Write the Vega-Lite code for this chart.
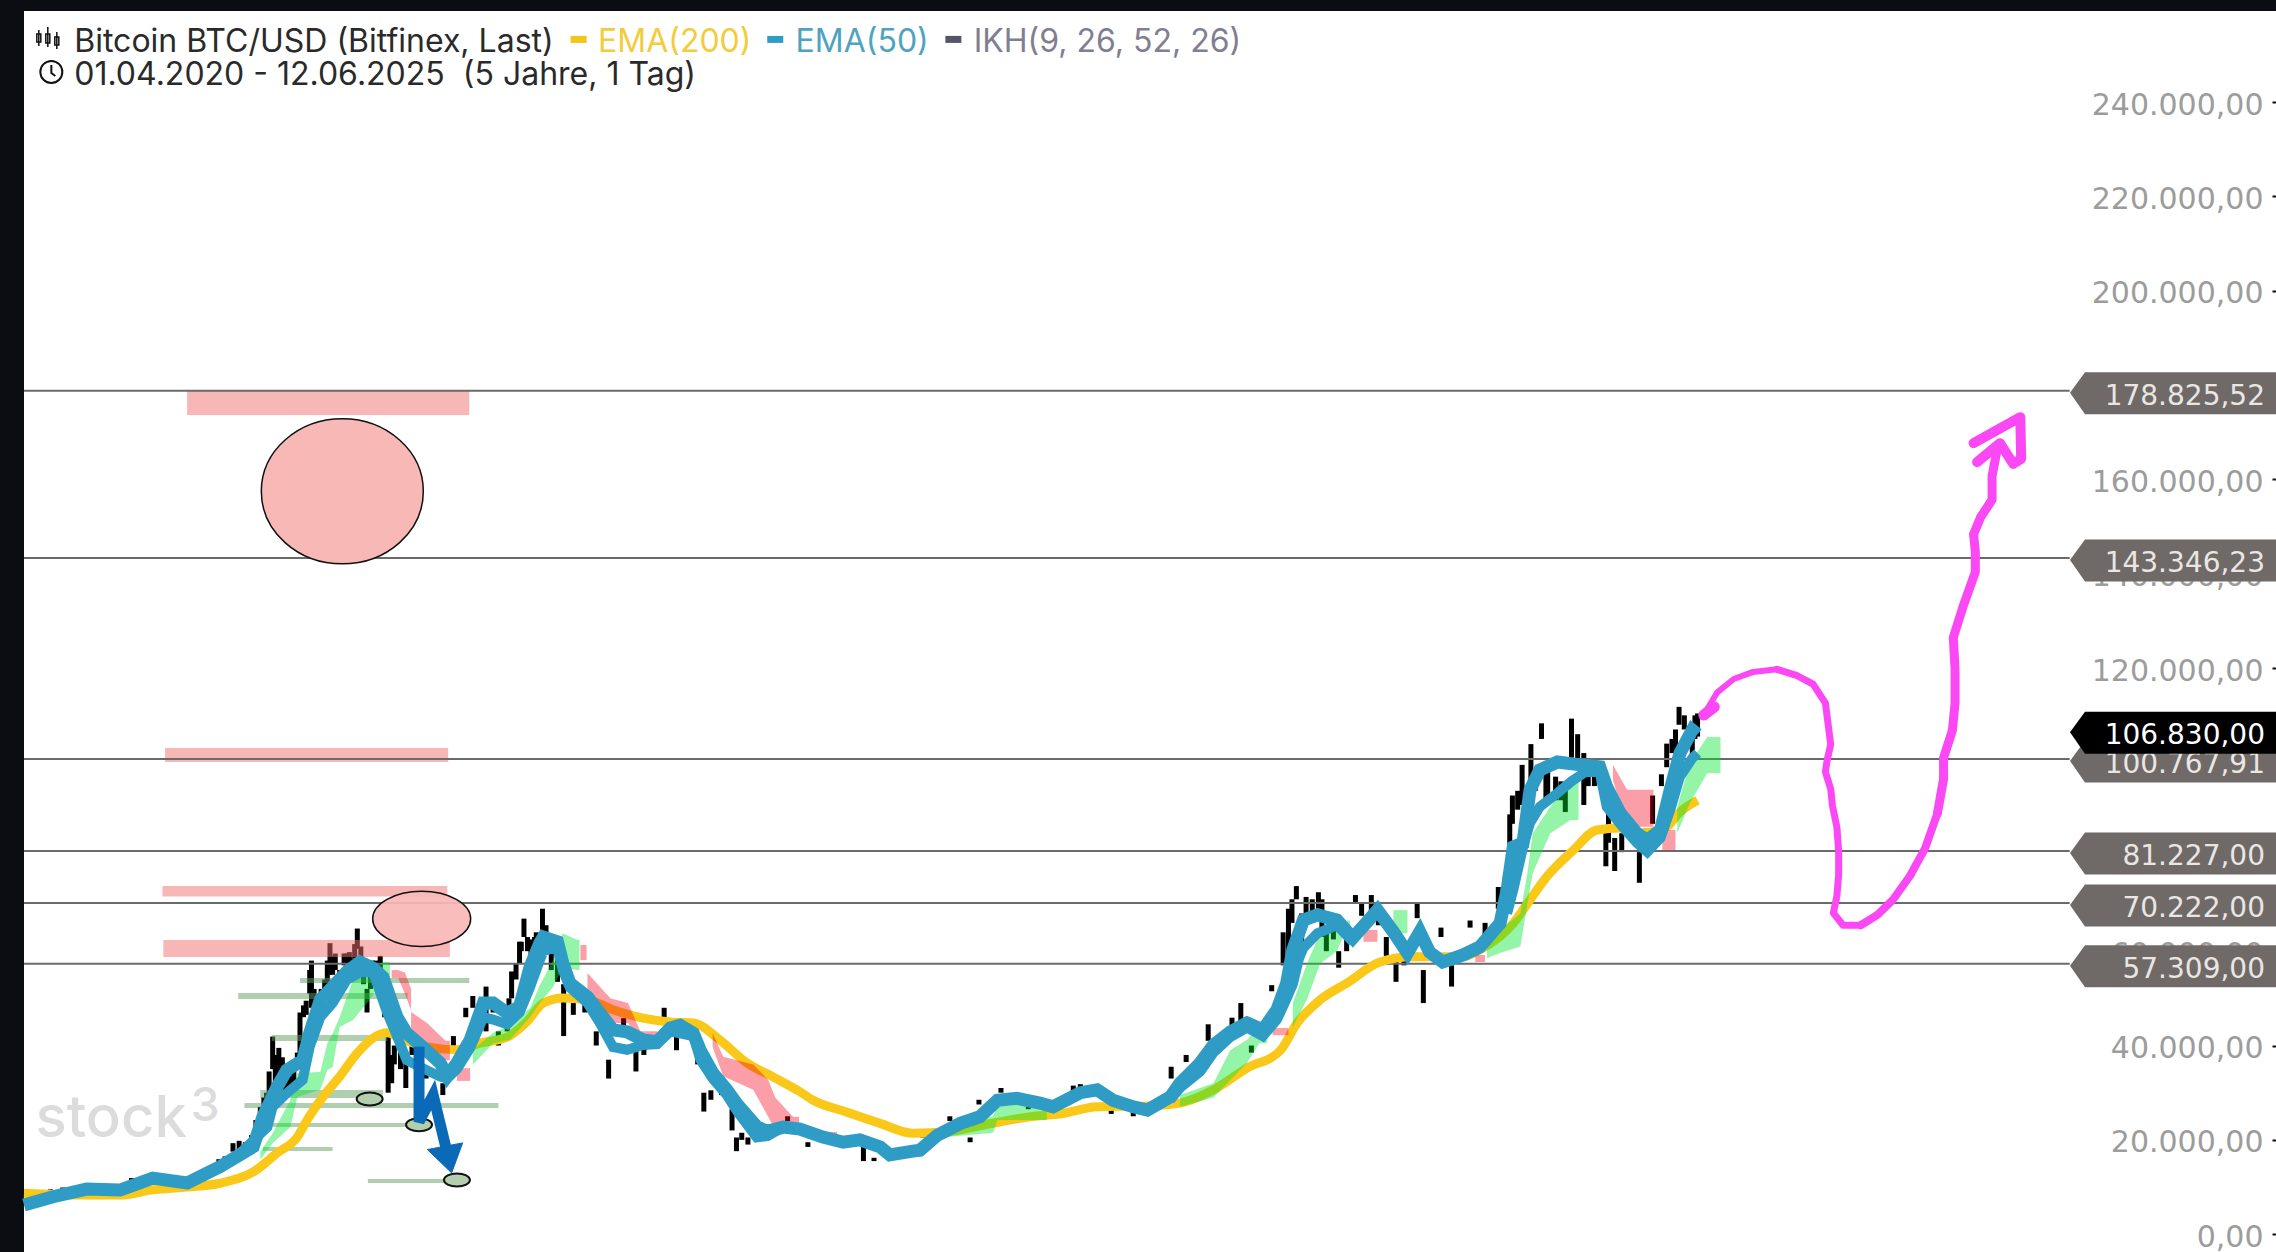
{"$schema":"https://vega.github.io/schema/vega-lite/v6.json","width":2252,"height":1241,"padding":{"left":24,"top":11,"right":0,"bottom":0},"autosize":{"type":"none"},"background":"#0b0d12","view":{"fill":"white","stroke":null},
"resolve":{"scale":{"color":"independent","strokeWidth":"independent"}},
"datasets":{
"levels":[{"date":"2020-04-01","date2":"2026-08-08","end":"2027-03-30","price":178825.52,"label":"178.825,52"},{"date":"2020-04-01","date2":"2026-08-08","end":"2027-03-30","price":143346.23,"label":"143.346,23"},{"date":"2020-04-01","date2":"2026-08-08","end":"2027-03-30","price":100767.91,"label":"100.767,91"},{"date":"2020-04-01","date2":"2026-08-08","end":"2027-03-30","price":81227,"label":"81.227,00"},{"date":"2020-04-01","date2":"2026-08-08","end":"2027-03-30","price":70222,"label":"70.222,00"},{"date":"2020-04-01","date2":"2026-08-08","end":"2027-03-30","price":57309,"label":"57.309,00"}]
},
"encoding":{"x":{"field":"date","type":"temporal","title":null,"axis":null,"scale":{"domain":["2020-04-01","2027-03-30"],"nice":false}},"y":{"field":"price","type":"quantitative","title":null,"scale":{"domain":[-3774,259320],"nice":false,"zero":false},"axis":{"orient":"right","values":[0,20000,40000,60000,80000,100000,120000,140000,160000,180000,200000,220000,240000],"labelExpr":"replace(format(datum.value,',.0f'),/,/g,'.')+',00'","grid":false,"domain":false,"tickSize":-4,"tickWidth":2,"tickColor":"#111111","labelPadding":-9,"labelAlign":"right","labelFont":"DejaVu Sans","labelFontSize":30,"labelColor":"#9c9c9c","labelBaseline":"middle","labelOverlap":false,"labelBound":false,"labelFlush":false,"labelOffset":3,"zindex":0}}},
"layer":[
{"data":{"values":[{"date":"2020-04-14","price":24300,"label":"stock"}]},"mark":{"type":"text","font":"Inter","fontSize":58,"fontWeight":500,"align":"left","baseline":"middle","color":"#dcdcdc"},"encoding":{"text":{"field":"label"}}},
{"data":{"values":[{"date":"2020-10-07","price":27000,"label":"3"}]},"mark":{"type":"text","font":"Inter","fontSize":46,"fontWeight":500,"align":"left","baseline":"middle","color":"#dcdcdc"},"encoding":{"text":{"field":"label"}}},
{"data":{"values":[{"date":"2020-04-01","price":7000,"price2":6200},{"date":"2020-04-15","price":7200,"price2":6500},{"date":"2020-05-01","price":9500,"price2":8400},{"date":"2020-05-15","price":9900,"price2":9100},{"date":"2020-06-01","price":10300,"price2":9400},{"date":"2020-06-15","price":9600,"price2":9000},{"date":"2020-07-01","price":9300,"price2":9000},{"date":"2020-07-15","price":9300,"price2":9100},{"date":"2020-08-01","price":11900,"price2":11000},{"date":"2020-08-15","price":12400,"price2":11700},{"date":"2020-09-01","price":12000,"price2":11400},{"date":"2020-09-15","price":10900,"price2":10300},{"date":"2020-10-01","price":10800,"price2":10500},{"date":"2020-10-15","price":11600,"price2":11300},{"date":"2020-11-01","price":14000,"price2":13500},{"date":"2020-11-08","price":15900,"price2":14800},{"date":"2020-11-15","price":16500,"price2":15500},{"date":"2020-11-24","price":19300,"price2":17500},{"date":"2020-12-01","price":19800,"price2":18000},{"date":"2020-12-08","price":19500,"price2":18000},{"date":"2020-12-15","price":21000,"price2":19000},{"date":"2020-12-20","price":24200,"price2":22000},{"date":"2020-12-25","price":27000,"price2":23000},{"date":"2020-12-29","price":29000,"price2":26000},{"date":"2021-01-01","price":30000,"price2":28000},{"date":"2021-01-04","price":34500,"price2":30000},{"date":"2021-01-08","price":41900,"price2":35000},{"date":"2021-01-11","price":38000,"price2":32000},{"date":"2021-01-15","price":39500,"price2":33000},{"date":"2021-01-19","price":37500,"price2":34500},{"date":"2021-01-22","price":34000,"price2":29000},{"date":"2021-01-27","price":33500,"price2":30000},{"date":"2021-02-01","price":36000,"price2":32000},{"date":"2021-02-05","price":38500,"price2":36000},{"date":"2021-02-08","price":47000,"price2":38000},{"date":"2021-02-12","price":48500,"price2":46000},{"date":"2021-02-15","price":49500,"price2":46500},{"date":"2021-02-19","price":56000,"price2":51000},{"date":"2021-02-21","price":58000,"price2":48000},{"date":"2021-02-24","price":52000,"price2":48000},{"date":"2021-02-26","price":48000,"price2":44000},{"date":"2021-03-01","price":49800,"price2":44000},{"date":"2021-03-04","price":52000,"price2":47000},{"date":"2021-03-08","price":54000,"price2":50000},{"date":"2021-03-11","price":58000,"price2":53000},{"date":"2021-03-14","price":61700,"price2":55000},{"date":"2021-03-17","price":59000,"price2":55000},{"date":"2021-03-20","price":59500,"price2":56000},{"date":"2021-03-25","price":56000,"price2":51000},{"date":"2021-03-30","price":59500,"price2":57000},{"date":"2021-04-01","price":59500,"price2":57000},{"date":"2021-04-05","price":59800,"price2":57000},{"date":"2021-04-08","price":58500,"price2":56000},{"date":"2021-04-11","price":61500,"price2":58500},{"date":"2021-04-14","price":64800,"price2":60500},{"date":"2021-04-18","price":61000,"price2":55000},{"date":"2021-04-21","price":57000,"price2":53000},{"date":"2021-04-25","price":52000,"price2":47000},{"date":"2021-04-29","price":56000,"price2":52000},{"date":"2021-05-01","price":58000,"price2":55000},{"date":"2021-05-05","price":58000,"price2":53500},{"date":"2021-05-10","price":59000,"price2":55000},{"date":"2021-05-15","price":50500,"price2":46000},{"date":"2021-05-19","price":43000,"price2":30000},{"date":"2021-05-23","price":38000,"price2":32000},{"date":"2021-05-26","price":40000,"price2":36000},{"date":"2021-06-02","price":38500,"price2":35000},{"date":"2021-06-08","price":37000,"price2":31000},{"date":"2021-06-15","price":40500,"price2":38000},{"date":"2021-06-22","price":33000,"price2":29000},{"date":"2021-07-01","price":35000,"price2":33000},{"date":"2021-07-20","price":32000,"price2":29500},{"date":"2021-08-01","price":42000,"price2":39500},{"date":"2021-08-15","price":48000,"price2":46000},{"date":"2021-08-23","price":50500,"price2":48000},{"date":"2021-09-07","price":52500,"price2":43000},{"date":"2021-09-15","price":48500,"price2":47000},{"date":"2021-09-21","price":43000,"price2":40000},{"date":"2021-10-01","price":48000,"price2":43000},{"date":"2021-10-03","price":50000,"price2":47500},{"date":"2021-10-06","price":55700,"price2":50000},{"date":"2021-10-11","price":57500,"price2":54000},{"date":"2021-10-15","price":62000,"price2":57500},{"date":"2021-10-17","price":62000,"price2":60000},{"date":"2021-10-20","price":66900,"price2":63000},{"date":"2021-10-24","price":63000,"price2":60000},{"date":"2021-10-28","price":62500,"price2":58000},{"date":"2021-11-01","price":63000,"price2":60000},{"date":"2021-11-03","price":64000,"price2":61000},{"date":"2021-11-06","price":63500,"price2":61000},{"date":"2021-11-10","price":69000,"price2":63000},{"date":"2021-11-14","price":65500,"price2":63500},{"date":"2021-11-20","price":60000,"price2":56000},{"date":"2021-11-27","price":58000,"price2":53500},{"date":"2021-12-04","price":53000,"price2":42000},{"date":"2021-12-15","price":49000,"price2":46500},{"date":"2021-12-28","price":52000,"price2":47000},{"date":"2022-01-10","price":43000,"price2":40000},{"date":"2022-01-24","price":37000,"price2":33000},{"date":"2022-02-10","price":45800,"price2":43000},{"date":"2022-02-24","price":39500,"price2":34500},{"date":"2022-03-05","price":42000,"price2":38000},{"date":"2022-03-28","price":48000,"price2":46000},{"date":"2022-04-11","price":42500,"price2":39000},{"date":"2022-05-05","price":40000,"price2":36000},{"date":"2022-05-12","price":30000,"price2":26000},{"date":"2022-05-20","price":30500,"price2":28500},{"date":"2022-06-01","price":32000,"price2":29500},{"date":"2022-06-13","price":26500,"price2":22000},{"date":"2022-06-18","price":20500,"price2":17600},{"date":"2022-06-24","price":21500,"price2":20000},{"date":"2022-07-01","price":20500,"price2":19000},{"date":"2022-08-15","price":25000,"price2":24000},{"date":"2022-09-07","price":19500,"price2":18500},{"date":"2022-10-15","price":19500,"price2":19000},{"date":"2022-11-09","price":18500,"price2":15500},{"date":"2022-11-21","price":16200,"price2":15500},{"date":"2022-12-15","price":17500,"price2":16500},{"date":"2023-01-01","price":16700,"price2":16500},{"date":"2023-01-15","price":21000,"price2":20500},{"date":"2023-02-15","price":25000,"price2":24000},{"date":"2023-03-10","price":20500,"price2":19500},{"date":"2023-03-20","price":28500,"price2":27500},{"date":"2023-04-14","price":31000,"price2":30000},{"date":"2023-05-15","price":27500,"price2":26500},{"date":"2023-06-15","price":25800,"price2":25000},{"date":"2023-07-05","price":31500,"price2":30200},{"date":"2023-07-13","price":31800,"price2":30500},{"date":"2023-08-17","price":28000,"price2":25500},{"date":"2023-09-11","price":26000,"price2":25000},{"date":"2023-10-24","price":35500,"price2":33000},{"date":"2023-11-10","price":38000,"price2":36500},{"date":"2023-12-05","price":44500,"price2":41000},{"date":"2024-01-01","price":45900,"price2":42000},{"date":"2024-01-11","price":49000,"price2":42500},{"date":"2024-01-23","price":40000,"price2":38500},{"date":"2024-02-15","price":52800,"price2":51500},{"date":"2024-02-28","price":64000,"price2":57000},{"date":"2024-03-05","price":69000,"price2":60000},{"date":"2024-03-09","price":71000,"price2":66000},{"date":"2024-03-14","price":73800,"price2":71000},{"date":"2024-03-20","price":68000,"price2":62000},{"date":"2024-03-25","price":71500,"price2":66000},{"date":"2024-04-01","price":71000,"price2":68000},{"date":"2024-04-08","price":72500,"price2":69000},{"date":"2024-04-12","price":71000,"price2":63000},{"date":"2024-04-17","price":64000,"price2":60000},{"date":"2024-04-25","price":65500,"price2":62500},{"date":"2024-05-01","price":60000,"price2":56500},{"date":"2024-05-10","price":63000,"price2":60000},{"date":"2024-05-20","price":71900,"price2":70000},{"date":"2024-05-27","price":70000,"price2":67500},{"date":"2024-06-07","price":71900,"price2":68500},{"date":"2024-06-15","price":67500,"price2":65500},{"date":"2024-06-24","price":63000,"price2":59000},{"date":"2024-07-05","price":58000,"price2":53500},{"date":"2024-07-14","price":61000,"price2":57000},{"date":"2024-07-29","price":70000,"price2":67000},{"date":"2024-08-05","price":56000,"price2":49000},{"date":"2024-08-25","price":65000,"price2":63000},{"date":"2024-09-06","price":57000,"price2":52500},{"date":"2024-09-27","price":66500,"price2":65000},{"date":"2024-10-14","price":66000,"price2":62000},{"date":"2024-10-29","price":73600,"price2":69000},{"date":"2024-11-06","price":76000,"price2":68000},{"date":"2024-11-11","price":89000,"price2":78000},{"date":"2024-11-14","price":93000,"price2":87000},{"date":"2024-11-20","price":94000,"price2":90000},{"date":"2024-11-25","price":99500,"price2":91000},{"date":"2024-12-05","price":103900,"price2":94000},{"date":"2024-12-10","price":98000,"price2":94000},{"date":"2024-12-17","price":108300,"price2":105000},{"date":"2024-12-22","price":98000,"price2":92500},{"date":"2024-12-24","price":99500,"price2":93000},{"date":"2025-01-02","price":97000,"price2":92000},{"date":"2025-01-08","price":96000,"price2":92000},{"date":"2025-01-13","price":95000,"price2":89500},{"date":"2025-01-20","price":109300,"price2":101000},{"date":"2025-01-27","price":106000,"price2":100000},{"date":"2025-02-03","price":102000,"price2":91000},{"date":"2025-02-08","price":98000,"price2":95000},{"date":"2025-02-15","price":98000,"price2":95000},{"date":"2025-02-28","price":85000,"price2":78000},{"date":"2025-03-03","price":94000,"price2":83000},{"date":"2025-03-10","price":84000,"price2":77000},{"date":"2025-03-18","price":85000,"price2":81000},{"date":"2025-03-25","price":88000,"price2":86000},{"date":"2025-04-07","price":81000,"price2":74500},{"date":"2025-04-15","price":86000,"price2":83000},{"date":"2025-04-22","price":93000,"price2":87000},{"date":"2025-05-02","price":97500,"price2":95000},{"date":"2025-05-08","price":104000,"price2":99000},{"date":"2025-05-14","price":105000,"price2":102000},{"date":"2025-05-18","price":107000,"price2":102000},{"date":"2025-05-22","price":111800,"price2":108000},{"date":"2025-05-28","price":110000,"price2":107000},{"date":"2025-06-01","price":106000,"price2":103500},{"date":"2025-06-06","price":105000,"price2":101000},{"date":"2025-06-09","price":110000,"price2":105000},{"date":"2025-06-12","price":110400,"price2":105500}]},"mark":{"type":"rule","strokeWidth":5,"color":"#000000"},"encoding":{"y2":{"field":"price2"}}},
{"data":{"values":[{"date":"2020-10-03","date2":"2021-08-19","price":178970,"price2":173670,"kind":"r"},{"date":"2020-09-08","date2":"2021-07-26","price":103070,"price2":100110,"kind":"r"},{"date":"2020-09-05","date2":"2021-07-25","price":73800,"price2":71600,"kind":"r"},{"date":"2020-09-06","date2":"2021-07-28","price":62370,"price2":58770,"kind":"r"},{"date":"2021-02-08","date2":"2021-08-19","price":54310,"price2":53250,"kind":"g"},{"date":"2020-11-30","date2":"2021-06-10","price":51130,"price2":49860,"kind":"g"},{"date":"2021-01-07","date2":"2021-05-18","price":42230,"price2":40960,"kind":"g"},{"date":"2020-12-25","date2":"2021-05-13","price":30570,"price2":28870,"kind":"g"},{"date":"2020-12-07","date2":"2021-09-21","price":27810,"price2":26760,"kind":"g"},{"date":"2021-01-08","date2":"2021-06-09","price":23570,"price2":22730,"kind":"g"},{"date":"2020-12-28","date2":"2021-03-17","price":18490,"price2":17640,"kind":"g"},{"date":"2021-04-26","date2":"2021-07-25","price":11700,"price2":10860,"kind":"g"}]},"mark":{"type":"rect","opacity":0.5},"encoding":{"x2":{"field":"date2"},"y2":{"field":"price2"},"color":{"field":"kind","type":"nominal","legend":null,"scale":{"domain":["r","g"],"range":["#f07070","#60a060"]}}}},
{"data":{"name":"levels"},"mark":{"type":"rule","strokeWidth":2,"color":"#6a6a6a"},"encoding":{"x2":{"field":"date2"}}},
{"data":{"values":[{"date":"2020-04-01","price":8700},{"date":"2020-06-11","price":8300},{"date":"2020-07-19","price":8300},{"date":"2020-08-25","price":9400},{"date":"2020-10-03","price":10000},{"date":"2020-11-09","price":10800},{"date":"2020-12-17","price":13200},{"date":"2021-01-13","price":17200},{"date":"2021-02-05","price":20600},{"date":"2021-02-16","price":24200},{"date":"2021-03-06","price":29100},{"date":"2021-03-25","price":33400},{"date":"2021-04-14","price":38400},{"date":"2021-05-02","price":41600},{"date":"2021-05-18","price":42700},{"date":"2021-06-01","price":41600},{"date":"2021-07-02","price":39700},{"date":"2021-08-05","price":39100},{"date":"2021-08-31","price":40500},{"date":"2021-10-01","price":41800},{"date":"2021-10-23","price":45000},{"date":"2021-11-11","price":49000},{"date":"2021-12-03","price":50100},{"date":"2021-12-31","price":49700},{"date":"2022-01-29","price":47600},{"date":"2022-03-04","price":45800},{"date":"2022-04-04","price":45000},{"date":"2022-04-30","price":44800},{"date":"2022-05-30","price":41200},{"date":"2022-06-30","price":36300},{"date":"2022-07-29","price":33400},{"date":"2022-08-29","price":30200},{"date":"2022-09-13","price":28400},{"date":"2022-10-21","price":25900},{"date":"2022-11-28","price":23500},{"date":"2023-01-04","price":21400},{"date":"2023-02-12","price":21700},{"date":"2023-03-21","price":23000},{"date":"2023-05-17","price":24900},{"date":"2023-06-23","price":25600},{"date":"2023-08-01","price":27000},{"date":"2023-09-27","price":27200},{"date":"2023-11-03","price":27800},{"date":"2023-12-11","price":30600},{"date":"2024-01-18","price":35200},{"date":"2024-02-25","price":39000},{"date":"2024-03-15","price":44800},{"date":"2024-04-10","price":49700},{"date":"2024-05-10","price":53200},{"date":"2024-06-17","price":57700},{"date":"2024-07-24","price":58800},{"date":"2024-09-19","price":58800},{"date":"2024-10-08","price":60300},{"date":"2024-11-15","price":65900},{"date":"2024-12-04","price":70900},{"date":"2024-12-23","price":75800},{"date":"2025-01-22","price":81400},{"date":"2025-02-18","price":85700},{"date":"2025-03-16","price":86100},{"date":"2025-04-11","price":85100},{"date":"2025-05-08","price":86400},{"date":"2025-05-23","price":89500},{"date":"2025-06-12","price":92000}]},"mark":{"type":"line","strokeWidth":9,"color":"#f9c818","interpolate":"monotone"}},
{"data":{"values":[{"seg":"g1","date":"2020-12-25","price":17500,"price2":15800},{"seg":"g1","date":"2021-01-08","price":21400,"price2":19300},{"seg":"g1","date":"2021-01-28","price":28400,"price2":22700},{"seg":"g1","date":"2021-02-05","price":34200,"price2":29100},{"seg":"g1","date":"2021-03-03","price":34400,"price2":30600},{"seg":"g1","date":"2021-03-11","price":40500,"price2":34800},{"seg":"g1","date":"2021-03-17","price":42600,"price2":35400},{"seg":"g1","date":"2021-03-25","price":46000,"price2":43900},{"seg":"g1","date":"2021-04-09","price":53900,"price2":45400},{"seg":"g1","date":"2021-04-28","price":55400,"price2":49700},{"seg":"g1","date":"2021-05-13","price":57700,"price2":53900},{"seg":"g1","date":"2021-05-21","price":57700,"price2":53900},{"seg":"g2","date":"2021-08-23","price":39000,"price2":35900},{"seg":"g2","date":"2021-09-15","price":42700,"price2":40500},{"seg":"g2","date":"2021-10-04","price":44300,"price2":41200},{"seg":"g2","date":"2021-10-27","price":48000,"price2":46000},{"seg":"g2","date":"2021-11-07","price":52800,"price2":49000},{"seg":"g2","date":"2021-11-22","price":58100,"price2":52400},{"seg":"g2","date":"2021-12-03","price":63800,"price2":56600},{"seg":"g2","date":"2021-12-19","price":62400,"price2":56000},{"seg":"g2","date":"2021-12-22","price":62400,"price2":56000},{"seg":"g3","date":"2023-02-12","price":23500,"price2":20600},{"seg":"g3","date":"2023-04-05","price":25000,"price2":21500},{"seg":"g3","date":"2023-04-10","price":27400,"price2":24200},{"seg":"g3","date":"2023-06-05","price":27400,"price2":24200},{"seg":"g4","date":"2023-11-03","price":29500,"price2":27000},{"seg":"g4","date":"2023-12-11","price":32000,"price2":29000},{"seg":"g4","date":"2023-12-30","price":39000,"price2":32700},{"seg":"g4","date":"2024-01-18","price":41200,"price2":36300},{"seg":"g4","date":"2024-02-01","price":44000,"price2":40500},{"seg":"g4","date":"2024-02-10","price":44000,"price2":40500},{"seg":"g5","date":"2024-03-10","price":49000,"price2":44000},{"seg":"g5","date":"2024-03-26","price":57400,"price2":49700},{"seg":"g5","date":"2024-04-10","price":63800,"price2":57400},{"seg":"g5","date":"2024-04-29","price":66000,"price2":60000},{"seg":"g5","date":"2024-05-08","price":66500,"price2":64000},{"seg":"g5","date":"2024-05-14","price":66500,"price2":64000},{"seg":"g6","date":"2024-07-02","price":68700,"price2":63800},{"seg":"g6","date":"2024-07-18","price":68700,"price2":63800},{"seg":"g7","date":"2024-10-16","price":61000,"price2":58500},{"seg":"g7","date":"2024-10-31","price":64500,"price2":59600},{"seg":"g7","date":"2024-11-23","price":68000,"price2":61000},{"seg":"g7","date":"2024-12-01","price":76500,"price2":70000},{"seg":"g7","date":"2024-12-07","price":85000,"price2":76500},{"seg":"g7","date":"2024-12-27","price":90600,"price2":85000},{"seg":"g7","date":"2025-01-19","price":96300,"price2":87800},{"seg":"g7","date":"2025-01-28","price":96300,"price2":87800},{"seg":"g8","date":"2025-05-20","price":90600,"price2":85000},{"seg":"g8","date":"2025-06-03","price":99800,"price2":91300},{"seg":"g8","date":"2025-06-23","price":105400,"price2":97700},{"seg":"g8","date":"2025-07-08","price":105400,"price2":97700}]},"mark":{"type":"area","color":"#00e730","opacity":0.42},"encoding":{"y2":{"field":"price2"},"detail":{"field":"seg"}}},
{"data":{"values":[{"seg":"r1","date":"2021-05-23","price":56000,"price2":54300},{"seg":"r1","date":"2021-05-30","price":56000,"price2":54300},{"seg":"r1b","date":"2021-05-30","price":56000,"price2":54500},{"seg":"r1b","date":"2021-06-07","price":55500,"price2":51000},{"seg":"r1b","date":"2021-06-14","price":52000,"price2":47500},{"seg":"r2","date":"2021-06-14","price":47100,"price2":42600},{"seg":"r2","date":"2021-07-02","price":44800,"price2":38500},{"seg":"r2","date":"2021-07-23","price":41000,"price2":36900},{"seg":"r2","date":"2021-07-28","price":41000,"price2":36900},{"seg":"r3","date":"2021-08-05","price":35200,"price2":32500},{"seg":"r3","date":"2021-08-20","price":35200,"price2":32500},{"seg":"r4","date":"2021-12-23","price":61300,"price2":58100},{"seg":"r4","date":"2021-12-30","price":61300,"price2":58100},{"seg":"r5","date":"2021-12-31","price":55400,"price2":50300},{"seg":"r5","date":"2022-01-26","price":50000,"price2":44800},{"seg":"r5","date":"2022-02-15","price":49000,"price2":44800},{"seg":"r5","date":"2022-03-01","price":43000,"price2":41000},{"seg":"r5","date":"2022-03-20","price":43000,"price2":41000},{"seg":"r6","date":"2022-05-22","price":42600,"price2":39700},{"seg":"r6","date":"2022-06-03","price":37600,"price2":33500},{"seg":"r6","date":"2022-07-07","price":36000,"price2":30600},{"seg":"r6","date":"2022-07-24","price":32700,"price2":24900},{"seg":"r6","date":"2022-08-01","price":29000,"price2":22100},{"seg":"r6","date":"2022-08-21","price":24900,"price2":22100},{"seg":"r6","date":"2022-08-28","price":24900,"price2":22100},{"seg":"r7","date":"2022-09-20","price":21700,"price2":20800},{"seg":"r7","date":"2022-10-10","price":21700,"price2":20800},{"seg":"r8","date":"2022-10-21","price":19500,"price2":18900},{"seg":"r8","date":"2022-11-08","price":19500,"price2":18900},{"seg":"r9","date":"2024-02-16","price":43700,"price2":42200},{"seg":"r9","date":"2024-03-05","price":43700,"price2":42200},{"seg":"r10","date":"2024-05-29","price":64500,"price2":62000},{"seg":"r10","date":"2024-06-14","price":64500,"price2":62000},{"seg":"r11","date":"2024-10-03","price":59200,"price2":57700},{"seg":"r11","date":"2024-10-14","price":59200,"price2":57700},{"seg":"r12","date":"2025-03-08","price":99500,"price2":96300},{"seg":"r12","date":"2025-03-24","price":94200,"price2":86400},{"seg":"r12","date":"2025-04-23","price":94200,"price2":86400},{"seg":"r13","date":"2025-05-03","price":85700,"price2":81400},{"seg":"r13","date":"2025-05-18","price":85700,"price2":81400}]},"mark":{"type":"area","color":"#f50018","opacity":0.38},"encoding":{"y2":{"field":"price2"},"detail":{"field":"seg"}}},
{"data":{"values":[{"seg":"a","date":"2020-12-01","price":17000},{"seg":"a","date":"2021-01-02","price":22700},{"seg":"a","date":"2021-01-08","price":27000},{"seg":"a","date":"2021-01-24","price":29900},{"seg":"a","date":"2021-02-11","price":32700},{"seg":"a","date":"2021-02-19","price":39700},{"seg":"a","date":"2021-03-03","price":46000},{"seg":"a","date":"2021-03-17","price":49000},{"seg":"a","date":"2021-04-02","price":53900},{"seg":"a","date":"2021-04-17","price":55500},{"seg":"a","date":"2021-05-02","price":55500},{"seg":"a","date":"2021-05-18","price":46900},{"seg":"a","date":"2021-05-29","price":42000},{"seg":"a","date":"2021-06-09","price":36900},{"seg":"a","date":"2021-06-27","price":35200},{"seg":"a","date":"2021-07-17","price":33400},{"seg":"a","date":"2021-07-25","price":33000},{"seg":"a","date":"2021-08-05","price":35000},{"seg":"a","date":"2021-08-20","price":39500},{"seg":"a","date":"2021-09-04","price":46000},{"seg":"a","date":"2021-09-15","price":45500},{"seg":"a","date":"2021-10-01","price":44500},{"seg":"a","date":"2021-10-15","price":47000},{"seg":"a","date":"2021-10-27","price":52400},{"seg":"a","date":"2021-11-07","price":58100},{"seg":"a","date":"2021-11-11","price":60000},{"seg":"a","date":"2021-11-27","price":61000},{"seg":"a","date":"2021-12-03","price":56000},{"seg":"a","date":"2021-12-11","price":52300},{"seg":"a","date":"2021-12-31","price":49000},{"seg":"a","date":"2022-01-14","price":44800},{"seg":"a","date":"2022-01-29","price":39700},{"seg":"a","date":"2022-02-14","price":39100},{"seg":"a","date":"2022-03-04","price":40100},{"seg":"a","date":"2022-03-20","price":40300},{"seg":"a","date":"2022-04-04","price":43000},{"seg":"a","date":"2022-04-30","price":42000},{"seg":"a","date":"2022-05-08","price":37000},{"seg":"a","date":"2022-05-22","price":33000},{"seg":"a","date":"2022-06-07","price":29500},{"seg":"a","date":"2022-06-19","price":26000},{"seg":"a","date":"2022-07-11","price":20500},{"seg":"a","date":"2022-07-23","price":20800},{"seg":"a","date":"2022-08-10","price":22700},{"seg":"b","date":"2023-10-23","price":28500},{"seg":"b","date":"2023-11-03","price":31000},{"seg":"b","date":"2023-11-26","price":34500},{"seg":"b","date":"2023-12-11","price":38500},{"seg":"b","date":"2023-12-30","price":41800},{"seg":"b","date":"2024-01-18","price":43800},{"seg":"b","date":"2024-02-05","price":42000},{"seg":"b","date":"2024-02-21","price":45500},{"seg":"b","date":"2024-03-03","price":50000},{"seg":"b","date":"2024-03-10","price":53000},{"seg":"b","date":"2024-03-17","price":58500},{"seg":"b","date":"2024-03-22","price":60700},{"seg":"b","date":"2024-04-07","price":63800},{"seg":"b","date":"2024-04-29","price":65500},{"seg":"b","date":"2024-05-17","price":62000},{"seg":"c","date":"2024-11-08","price":68000},{"seg":"c","date":"2024-11-15","price":73000},{"seg":"c","date":"2024-11-26","price":82000},{"seg":"c","date":"2024-12-04","price":87200},{"seg":"c","date":"2024-12-15","price":90600},{"seg":"c","date":"2025-01-04","price":93500},{"seg":"c","date":"2025-01-20","price":96000},{"seg":"c","date":"2025-02-05","price":98000},{"seg":"c","date":"2025-02-21","price":98000},{"seg":"c","date":"2025-03-01","price":90600},{"seg":"c","date":"2025-03-16","price":87000},{"seg":"c","date":"2025-04-04","price":83000},{"seg":"c","date":"2025-04-16","price":81000},{"seg":"c","date":"2025-05-01","price":84000},{"seg":"c","date":"2025-05-12","price":90000},{"seg":"c","date":"2025-05-23","price":97000},{"seg":"c","date":"2025-06-06","price":100900},{"seg":"c","date":"2025-06-12","price":102000}]},"mark":{"type":"line","strokeWidth":10,"color":"#2e9cc4"},"encoding":{"detail":{"field":"seg"}}},
{"data":{"values":[{"date":"2020-04-01","price":6200},{"date":"2020-05-04","price":7950},{"date":"2020-06-11","price":9570},{"date":"2020-07-19","price":9370},{"date":"2020-08-25","price":11900},{"date":"2020-10-03","price":10850},{"date":"2020-11-09","price":14300},{"date":"2020-12-17","price":18550},{"date":"2020-12-28","price":24900},{"date":"2021-01-13","price":31200},{"date":"2021-01-24","price":34800},{"date":"2021-02-11","price":36900},{"date":"2021-02-19","price":42600},{"date":"2021-03-03","price":49650},{"date":"2021-03-17","price":52400},{"date":"2021-04-02","price":55600},{"date":"2021-04-17","price":57700},{"date":"2021-05-02","price":56400},{"date":"2021-05-13","price":54500},{"date":"2021-05-29","price":46000},{"date":"2021-06-09","price":42600},{"date":"2021-06-27","price":39700},{"date":"2021-07-17","price":36300},{"date":"2021-07-25","price":33500},{"date":"2021-08-05","price":36300},{"date":"2021-08-20","price":41200},{"date":"2021-09-04","price":49000},{"date":"2021-09-15","price":49000},{"date":"2021-10-01","price":46900},{"date":"2021-10-15","price":48200},{"date":"2021-10-27","price":56700},{"date":"2021-11-07","price":61700},{"date":"2021-11-11","price":63000},{"date":"2021-11-27","price":62000},{"date":"2021-12-03","price":57500},{"date":"2021-12-11","price":53200},{"date":"2021-12-31","price":50300},{"date":"2022-01-14","price":46900},{"date":"2022-01-29","price":43300},{"date":"2022-02-14","price":42900},{"date":"2022-03-04","price":41200},{"date":"2022-03-20","price":40800},{"date":"2022-04-04","price":43700},{"date":"2022-04-15","price":44300},{"date":"2022-04-30","price":42600},{"date":"2022-05-08","price":39000},{"date":"2022-05-22","price":34200},{"date":"2022-06-07","price":30600},{"date":"2022-06-19","price":27500},{"date":"2022-07-11","price":22800},{"date":"2022-07-23","price":21800},{"date":"2022-08-10","price":22700},{"date":"2022-08-29","price":22300},{"date":"2022-09-24","price":20600},{"date":"2022-10-17","price":19500},{"date":"2022-11-05","price":20000},{"date":"2022-11-28","price":18500},{"date":"2022-12-09","price":16800},{"date":"2023-01-04","price":17600},{"date":"2023-01-12","price":17800},{"date":"2023-02-01","price":21000},{"date":"2023-02-27","price":23500},{"date":"2023-03-21","price":24900},{"date":"2023-04-10","price":28400},{"date":"2023-05-02","price":28800},{"date":"2023-05-28","price":27800},{"date":"2023-06-12","price":27000},{"date":"2023-07-13","price":30000},{"date":"2023-08-01","price":30600},{"date":"2023-08-19","price":28400},{"date":"2023-09-11","price":27000},{"date":"2023-09-27","price":26300},{"date":"2023-10-23","price":29100},{"date":"2023-11-03","price":32000},{"date":"2023-11-26","price":36300},{"date":"2023-12-11","price":40100},{"date":"2023-12-30","price":42900},{"date":"2024-01-18","price":44800},{"date":"2024-02-05","price":43300},{"date":"2024-02-21","price":47600},{"date":"2024-03-03","price":53200},{"date":"2024-03-10","price":60300},{"date":"2024-03-22","price":66600},{"date":"2024-04-07","price":67700},{"date":"2024-04-29","price":66600},{"date":"2024-05-17","price":62800},{"date":"2024-06-14","price":68700},{"date":"2024-07-02","price":64100},{"date":"2024-07-18","price":59600},{"date":"2024-08-01","price":64100},{"date":"2024-08-12","price":59800},{"date":"2024-08-27","price":57700},{"date":"2024-09-19","price":59200},{"date":"2024-10-08","price":60900},{"date":"2024-10-31","price":65900},{"date":"2024-11-08","price":73000},{"date":"2024-11-15","price":82100},{"date":"2024-11-26","price":82900},{"date":"2024-12-04","price":94200},{"date":"2024-12-15","price":98400},{"date":"2025-01-04","price":100100},{"date":"2025-01-30","price":99500},{"date":"2025-02-21","price":99100},{"date":"2025-03-01","price":94800},{"date":"2025-03-16","price":89300},{"date":"2025-04-04","price":85000},{"date":"2025-04-16","price":83500},{"date":"2025-05-01","price":85700},{"date":"2025-05-12","price":94200},{"date":"2025-05-23","price":102000},{"date":"2025-06-06","price":106900},{"date":"2025-06-12","price":106000}]},"mark":{"type":"line","strokeWidth":13,"color":"#2e9cc4"}},
{"data":{"values":[{"date":"2021-03-28","price":157500}]},"mark":{"type":"point","shape":"M-1,0A1,0.896,0,1,1,1,0A1,0.896,0,1,1,-1,0Z","size":26244,"filled":true,"fill":"#f8b8b6","stroke":"#111111","strokeWidth":1.5,"opacity":1}},
{"data":{"values":[{"date":"2021-06-26","price":66860}]},"mark":{"type":"point","shape":"M-1,0A1,0.563,0,1,1,1,0A1,0.563,0,1,1,-1,0Z","size":9604,"filled":true,"fill":"#f8b8b6","stroke":"#111111","strokeWidth":1.5,"opacity":1,"fillOpacity":0.92}},
{"data":{"values":[{"date":"2021-04-28","price":28660},{"date":"2021-06-23","price":23200},{"date":"2021-08-05","price":11500}]},"mark":{"type":"point","shape":"M-1,0A1,0.5,0,1,1,1,0A1,0.5,0,1,1,-1,0Z","size":676,"filled":true,"fill":"#b3cfae","stroke":"#111111","strokeWidth":2,"opacity":1}},
{"data":{"values":[{"seq":1,"date":"2021-06-23","price":39750},{"seq":2,"date":"2021-06-23","price":23850},{"seq":3,"date":"2021-07-09","price":29500},{"seq":4,"date":"2021-07-25","price":17200}]},"mark":{"type":"line","strokeWidth":11,"color":"#0a6ab8","strokeJoin":"miter"},"encoding":{"order":{"field":"seq","type":"quantitative"}}},
{"data":{"values":[{"date":"2021-07-30","price":13000}]},"mark":{"type":"point","shape":"M0,0L-24.3,-23.3L11,-30Z","size":4,"filled":true,"fill":"#0a6ab8","stroke":"#0a6ab8","strokeWidth":1,"opacity":1}},
{"data":{"values":[{"part":"a","seq":1,"date":"2025-06-19","price":110060},{"part":"a","seq":2,"date":"2025-07-04","price":114800},{"part":"a","seq":3,"date":"2025-07-23","price":117700},{"part":"a","seq":4,"date":"2025-08-14","price":119200},{"part":"a","seq":5,"date":"2025-09-10","price":119750},{"part":"b","seq":5,"date":"2025-09-10","price":119750},{"part":"b","seq":6,"date":"2025-10-03","price":118400},{"part":"b","seq":7,"date":"2025-10-21","price":116600},{"part":"b","seq":8,"date":"2025-11-04","price":112600},{"part":"b","seq":9,"date":"2025-11-07","price":108200},{"part":"b","seq":10,"date":"2025-11-10","price":103800},{"part":"b","seq":11,"date":"2025-11-06","price":100550},{"part":"b","seq":12,"date":"2025-11-04","price":98000},{"part":"b","seq":13,"date":"2025-11-10","price":94400},{"part":"b","seq":14,"date":"2025-11-12","price":90800},{"part":"b","seq":15,"date":"2025-11-17","price":86300},{"part":"b","seq":16,"date":"2025-11-19","price":81200},{"part":"b","seq":17,"date":"2025-11-19","price":76200},{"part":"b","seq":18,"date":"2025-11-17","price":71700},{"part":"b","seq":19,"date":"2025-11-13","price":68100},{"part":"b","seq":20,"date":"2025-11-24","price":65500},{"part":"b","seq":21,"date":"2025-12-14","price":65500},{"part":"c","seq":21,"date":"2025-12-14","price":65500},{"part":"c","seq":22,"date":"2026-01-02","price":67700},{"part":"c","seq":23,"date":"2026-01-20","price":71000},{"part":"c","seq":24,"date":"2026-02-08","price":76000},{"part":"c","seq":25,"date":"2026-02-25","price":81800},{"part":"c","seq":26,"date":"2026-03-11","price":89200},{"part":"d","seq":26,"date":"2026-03-11","price":89200},{"part":"d","seq":27,"date":"2026-03-18","price":96500},{"part":"d","seq":28,"date":"2026-03-18","price":101000},{"part":"d","seq":29,"date":"2026-03-28","price":106800},{"part":"d","seq":30,"date":"2026-03-31","price":112600},{"part":"d","seq":31,"date":"2026-03-31","price":119900},{"part":"d","seq":32,"date":"2026-03-29","price":126500},{"part":"d","seq":33,"date":"2026-04-09","price":133000},{"part":"d","seq":34,"date":"2026-04-23","price":140400},{"part":"d","seq":35,"date":"2026-04-23","price":144700},{"part":"d","seq":36,"date":"2026-04-21","price":148400},{"part":"d","seq":37,"date":"2026-04-29","price":152000},{"part":"d","seq":38,"date":"2026-05-12","price":155700},{"part":"d","seq":39,"date":"2026-05-12","price":160700},{"part":"d","seq":40,"date":"2026-05-18","price":166600},{"part":"e","seq":1,"date":"2026-04-25","price":163700},{"part":"e","seq":2,"date":"2026-05-21","price":167700},{"part":"e","seq":3,"date":"2026-06-05","price":163300},{"part":"e","seq":4,"date":"2026-06-14","price":164400},{"part":"e","seq":5,"date":"2026-06-13","price":173200},{"part":"e","seq":6,"date":"2026-04-21","price":167700},{"part":"f","seq":1,"date":"2025-06-19","price":110060},{"part":"f","seq":2,"date":"2025-07-01","price":111800}]},"mark":{"type":"line","color":"#fb48f5","strokeJoin":"round","strokeCap":"round"},"encoding":{"detail":{"field":"part"},"order":{"field":"seq","type":"quantitative"},"strokeWidth":{"field":"part","type":"nominal","legend":null,"scale":{"domain":["a","b","c","d","e","f"],"range":[6,11,6,8,7,4]}}}},
{"data":{"name":"levels"},"mark":{"type":"point","shape":"M0,-18.5L-191,-18.5L-206,2L-191,23.5L0,23.5Z","size":4,"filled":true,"fill":"#6f6a67","opacity":1,"strokeWidth":0},"encoding":{"x":{"field":"end","type":"temporal"}}},
{"data":{"name":"levels"},"mark":{"type":"text","font":"DejaVu Sans","fontSize":28,"align":"right","baseline":"middle","dx":-11,"dy":6,"color":"#e9e6e3"},"encoding":{"x":{"field":"end","type":"temporal"},"text":{"field":"label"}}},
{"data":{"values":[{"date":"2027-03-30","price":106830,"label":"106.830,00"}]},"mark":{"type":"point","shape":"M0,-18.5L-191,-18.5L-206,2L-191,23.5L0,23.5Z","size":4,"filled":true,"fill":"#000000","opacity":1,"strokeWidth":0}},
{"data":{"values":[{"date":"2027-03-30","price":106830,"label":"106.830,00"}]},"mark":{"type":"text","font":"DejaVu Sans","fontSize":28,"align":"right","baseline":"middle","dx":-11,"dy":6,"color":"#ffffff"},"encoding":{"text":{"field":"label"}}},
{"data":{"values":[{"date":"2020-05-28","price":252700,"label":"Bitcoin BTC/USD (Bitfinex, Last)","series":"chart"},{"date":"2020-05-28","price":245650,"label":"01.04.2020 - 12.06.2025\u00a0\u00a0(5 Jahre, 1 Tag)","series":"chart"},{"date":"2022-01-12","price":252700,"label":"EMA(200)","series":"EMA200"},{"date":"2022-08-24","price":252700,"label":"EMA(50)","series":"EMA50"},{"date":"2023-03-14","price":252700,"label":"IKH(9, 26, 52, 26)","series":"IKH"}]},"mark":{"type":"text","font":"Inter","fontSize":32,"align":"left","baseline":"middle"},"encoding":{"text":{"field":"label"},"color":{"field":"series","type":"nominal","legend":null,"scale":{"domain":["chart","EMA200","EMA50","IKH"],"range":["#2a2a2a","#f2cc3a","#4fa3c0","#7f7e92"]}}}},
{"data":{"values":[{"date":"2021-12-21","price":253300,"series":"EMA200"},{"date":"2022-08-01","price":253300,"series":"EMA50"},{"date":"2023-02-19","price":253300,"series":"IKH"}]},"mark":{"type":"point","shape":"M-8,-3.5H8V3.5H-8Z","size":4,"filled":true,"opacity":1,"strokeWidth":0},"encoding":{"color":{"field":"series","type":"nominal","legend":null,"scale":{"domain":["EMA200","EMA50","IKH"],"range":["#f2c518","#2e9cc4","#55546a"]}}}},
{"data":{"values":[{"date":"2020-04-28","price":253600}]},"mark":{"type":"point","shape":"M-9,-8V8M0,-11V9M9,-6V11M-11,-4H-7V4H-11ZM-2,-4H2V5H-2ZM7,-1H11V7H7Z","size":4,"filled":false,"stroke":"#111111","strokeWidth":1.5,"opacity":1}},
{"data":{"values":[{"date":"2020-05-02","price":246400}]},"mark":{"type":"point","shape":"M-11,0A11,11,0,1,1,11,0A11,11,0,1,1,-11,0ZM0,-7V1L4,4","size":4,"filled":false,"stroke":"#111111","strokeWidth":2,"opacity":1}}
]}
